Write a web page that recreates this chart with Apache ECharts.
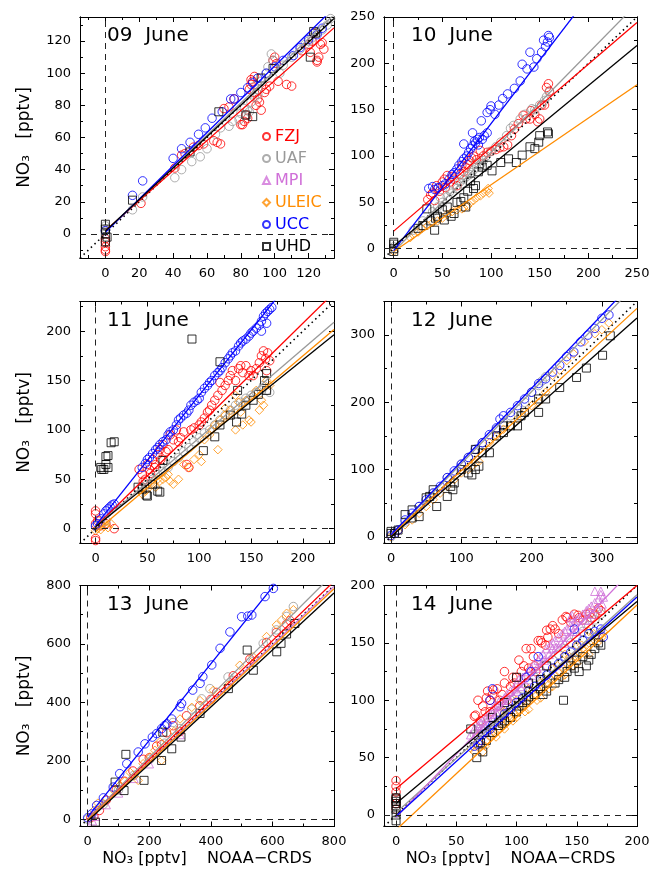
<!DOCTYPE html>
<html><head><meta charset="utf-8">
<script src="https://cdn.jsdelivr.net/npm/echarts@6/dist/echarts.min.js"></script>
<style>html,body{margin:0;padding:0;background:#fff;}#c{width:653px;height:879px;}</style>
</head><body><div id="c"></div>
<script>
// ---------- instruments ----------
const instruments = ['FZJ','UAF','MPI','ULEIC','UCC','UHD'];
const instColors  = ['#ff0000','#999999','#d070d8','#ff8c00','#0000ff','#000000'];
const instSymbols = ['circle','circle','triangle','diamond','circle','rect'];
const panelTitles = ['09  June','10  June','11  June','12  June','13  June','14  June'];
// axis ranges and tick steps (same for x and y in each panel)
const axisMin   = [-15,-10,-15,-10,-25,-10];
const axisMax   = [135,250,230,350,800,200];
const majorStep = [20,50,50,100,200,50];
const minorStep = [10,25,25,50,100,25];

// ---------- 09 June ----------
const d09_FZJ = [[0,-5],[0,-8],[0,-10],[0,-11],[0,-3],[21,19],[41,41],[45,49],[47,50],[52,54],[55,55],[58,56],[64,58],[66,57],[68,56],[70,78],[73,79],[76,84],[80,68],[81,68],[82,70],[83,74],[84,72],[85,90],[86,93],[86,96],[87,95],[88,98],[88,88],[89,80],[90,84],[91,82],[92,77],[94,88],[95,90],[97,92],[99,108],[100,110],[101,106],[102,95],[107,93],[110,92],[116,114],[120,118],[121,113],[122,120],[125,108],[126,110],[127,118],[129,115],[125,107],[123,125],[128,119]];
const d09_UAF = [[0,5],[0,3],[0,2],[16,15],[22,23],[41,35],[45,40],[51,45],[56,48],[60,53],[65,62],[68,66],[73,67],[75,70],[79,71],[80,75],[82,78],[84,77],[86,82],[88,85],[90,90],[92,95],[95,100],[98,112],[99,108],[96,104],[103,100],[105,105],[110,110],[115,115],[118,118],[120,120],[122,122],[125,125],[128,127],[131,130],[88,92],[85,76],[90,87],[133,134]];
const d09_UCC = [[0,2],[16,24],[22,33],[40,47],[45,53],[50,57],[55,62],[59,66],[63,72],[69,76],[74,84],[76,84],[80,88],[84,91],[87,94],[90,97],[95,100],[100,104],[105,108],[111,111],[115,116],[120,121],[125,124],[128,128]];
const d09_UHD = [[0,6],[0,3],[0,0],[1,-2],[0,-5],[16,21],[50,51],[67,76],[83,74],[87,73],[92,97],[99,103],[121,110],[123,126],[124,125]];
const fit09 = [['FZJ',0.935,2],['UAF',1.0,1.5],['UCC',1.035,1],['UHD',0.98,1.8]];

// ---------- 10 June ----------
const d10_FZJ = [[35,53],[38,58],[42,52],[45,65],[47,62],[50,72],[52,75],[55,79],[58,72],[62,75],[65,68],[68,80],[72,83],[74,88],[76,91],[78,95],[80,98],[82,100],[85,96],[89,106],[92,100],[96,104],[100,105],[105,107],[109,109],[113,110],[117,112],[121,122],[124,129],[128,135],[133,144],[136,140],[140,140],[141,149],[145,145],[148,137],[150,140],[152,155],[155,155],[157,174],[159,178],[160,170],[40,60],[44,68],[53,66],[60,78],[70,90]];
const d10_UAF = [[0,2],[20,20],[30,30],[40,40],[45,45],[50,50],[55,56],[60,60],[65,65],[70,70],[72,75],[75,78],[78,80],[80,82],[82,85],[85,88],[88,90],[90,92],[92,95],[95,100],[100,105],[105,110],[110,115],[116,122],[120,130],[123,133],[130,140],[135,145],[142,151],[145,150],[150,155],[155,160],[157,164],[160,169],[48,55],[58,62],[68,72],[84,92]];
const d10_ULEIC = [[0,-3],[17,12],[20,15],[25,18],[28,22],[35,25],[40,28],[45,30],[50,33],[55,37],[60,40],[65,42],[70,43],[72,44],[76,46],[79,50],[82,52],[85,55],[89,57],[92,60],[96,62],[97,65],[98,60]];
const d10_UCC = [[36,65],[40,67],[42,64],[46,66],[50,68],[53,70],[57,75],[62,82],[67,90],[72,97],[72,113],[77,104],[81,111],[81,125],[84,114],[86,118],[88,120],[90,138],[93,122],[96,125],[96,147],[99,150],[100,154],[104,145],[108,155],[112,162],[117,167],[124,173],[130,181],[132,199],[137,194],[140,212],[144,196],[147,205],[152,212],[154,225],[156,218],[158,223],[159,230],[160,228],[60,80],[65,86],[70,94],[75,100],[79,108],[83,116],[87,112],[91,118]];
const d10_UHD = [[0,-3],[0,0],[0,5],[0,7],[25,22],[30,25],[34,43],[38,30],[42,20],[43,33],[45,35],[50,42],[52,31],[55,45],[59,35],[62,38],[65,50],[69,51],[72,55],[74,45],[76,62],[79,73],[82,65],[84,68],[87,83],[91,88],[96,90],[101,84],[110,93],[118,97],[126,93],[132,101],[140,110],[145,108],[149,115],[150,122],[158,126],[159,124]];
const fit10 = [['FZJ',0.9,19],['UAF',1.07,-3],['ULEIC',0.72,-3],['UCC',1.37,-2],['UHD',0.865,3]];

// ---------- 11 June ----------
const d11_FZJ = [[0,-10],[0,-12],[0,15],[0,18],[0,5],[2,8],[5,3],[10,5],[18,0],[42,60],[45,55],[48,50],[50,65],[52,60],[55,70],[58,65],[60,75],[62,80],[65,85],[68,78],[70,80],[72,95],[75,90],[78,100],[80,88],[82,92],[85,98],[88,65],[90,62],[92,100],[95,102],[100,105],[102,108],[105,112],[108,118],[110,120],[112,125],[115,130],[118,135],[120,148],[122,140],[125,145],[128,150],[130,155],[132,160],[135,150],[138,162],[140,165],[142,158],[145,165],[148,155],[150,160],[152,155],[155,162],[158,168],[160,175],[162,180],[164,172],[166,178],[168,170],[165,160],[46,48],[53,56],[57,62],[63,70]];
const d11_UAF = [[0,2],[5,4],[10,8],[45,42],[50,45],[55,50],[60,55],[65,58],[70,62],[75,68],[80,72],[85,78],[90,82],[95,88],[100,92],[105,97],[110,100],[115,105],[120,110],[125,115],[130,120],[135,125],[140,128],[145,132],[150,135],[155,138],[160,140],[165,140],[168,138],[162,145]];
const d11_ULEIC = [[0,-2],[2,0],[5,-1],[8,2],[10,4],[12,1],[15,5],[45,35],[48,38],[50,40],[55,45],[58,42],[60,50],[62,48],[65,50],[68,52],[70,55],[72,48],[75,45],[80,50],[85,65],[90,62],[95,70],[100,75],[102,68],[105,90],[110,95],[112,100],[115,105],[118,80],[120,110],[125,115],[130,120],[135,100],[138,128],[140,118],[142,105],[145,130],[148,110],[150,108],[152,135],[155,140],[158,120],[160,130],[162,125],[165,150],[168,145],[135,135],[125,122]];
const d11_UCC = [[0,3],[2,5],[5,10],[8,15],[10,18],[12,20],[14,22],[16,24],[18,25],[45,62],[48,66],[50,70],[52,72],[55,76],[58,80],[60,82],[62,85],[65,88],[68,90],[70,95],[72,98],[75,100],[78,105],[80,110],[82,112],[85,115],[88,117],[90,120],[92,125],[95,128],[98,130],[100,132],[102,138],[105,142],[108,145],[110,148],[112,150],[115,155],[118,158],[120,160],[122,163],[125,168],[128,172],[130,175],[132,178],[135,180],[138,185],[140,188],[142,190],[145,192],[148,195],[150,198],[152,200],[155,203],[158,206],[160,210],[162,215],[164,218],[166,220],[168,222],[170,224],[165,208],[160,200]];
const d11_UHD = [[5,62],[6,60],[8,60],[10,65],[10,73],[12,74],[12,62],[15,87],[18,88],[41,42],[45,40],[49,34],[50,33],[55,45],[60,38],[62,37],[65,69],[93,192],[104,79],[115,93],[120,105],[120,169],[130,115],[136,108],[137,140],[141,116],[145,125],[152,130],[157,136],[163,150],[165,157],[165,140]];
const fit11 = [['FZJ',1.03,2],['UAF',0.9,2],['ULEIC',0.89,-3],['UCC',1.32,3],['UHD',0.845,2]];

// ---------- 12 June ----------
const d12_UAF = [[0,0],[10,10],[20,22],[40,45],[60,65],[80,88],[100,108],[110,118],[120,125],[130,140],[150,160],[160,170],[170,180],[180,190],[190,200],[200,215],[210,225],[215,232],[220,238]];
const d12_ULEIC = [[0,0],[10,8],[20,18],[30,25],[40,35],[50,45],[60,55],[70,65],[80,75],[90,85],[100,95],[110,100],[115,105],[120,110],[125,112],[140,140],[150,150],[160,160],[170,165],[180,175],[190,185],[200,195],[210,200],[220,215],[230,240],[240,248],[250,262],[260,272],[275,290],[290,302],[300,308],[310,318]];
const d12_UCC = [[0,2],[5,5],[10,10],[20,25],[30,35],[40,45],[50,55],[60,65],[70,75],[80,88],[90,98],[100,108],[110,118],[120,130],[130,140],[140,152],[150,162],[155,175],[160,180],[170,185],[180,195],[190,205],[200,215],[210,228],[220,235],[230,245],[240,255],[250,268],[260,275],[270,290],[280,300],[290,310],[300,325],[310,330]];
const d12_UHD = [[0,5],[0,8],[5,5],[10,10],[20,33],[30,40],[30,28],[40,30],[50,58],[55,60],[60,70],[65,45],[80,60],[85,75],[90,80],[88,70],[100,100],[110,95],[115,92],[120,100],[120,130],[125,105],[130,125],[140,125],[150,150],[160,155],[160,165],[170,165],[180,165],[185,180],[190,185],[210,185],[210,205],[220,205],[240,222],[264,237],[278,251],[301,270],[312,299]];
const fit12 = [['UAF',1.07,2],['ULEIC',0.965,2],['UCC',1.09,3],['UHD',0.93,0]];

// ---------- 13 June ----------
const d13_FZJ = [[10,5],[20,10],[38,30],[60,65],[93,101],[120,130],[147,165],[180,205],[200,210],[224,250],[240,255],[256,296],[278,320],[300,300],[321,354],[364,388],[400,410],[419,434],[473,491],[527,548],[581,605],[613,639],[646,668],[657,680]];
const d13_UAF = [[0,0],[50,50],[100,100],[150,150],[202,205],[250,260],[277,331],[300,310],[338,377],[370,412],[397,447],[456,487],[473,475],[537,539],[570,602],[613,648],[646,694],[668,728]];
const d13_MPI = [[15,-5],[25,10],[60,50],[100,90],[150,140],[200,190],[300,290]];
const d13_ULEIC = [[20,30],[33,55],[50,55],[83,101],[104,115],[120,130],[137,161],[164,133],[180,190],[202,213],[218,236],[234,264],[240,201],[250,250],[280,300],[300,343],[338,383],[365,406],[408,441],[456,458],[494,527],[537,556],[581,625],[613,665],[630,682],[646,705],[668,717]];
const d13_UCC = [[0,5],[13,18],[29,47],[51,73],[83,110],[104,156],[127,190],[164,230],[186,258],[210,281],[224,293],[240,310],[250,320],[257,326],[273,343],[300,385],[305,396],[341,442],[365,465],[374,488],[403,528],[430,585],[462,641],[500,693],[520,695],[533,699],[576,762],[603,790]];
const d13_UHD = [[25,-10],[89,127],[118,98],[124,222],[183,133],[240,201],[244,298],[273,241],[303,281],[365,362],[457,447],[518,579],[538,510],[614,573],[628,602],[646,634],[673,670]];
const fit13 = [['FZJ',1.015,2],['UAF',1.05,2],['MPI',1.0,-3],['ULEIC',0.99,-3],['UCC',1.31,8],['UHD',0.975,-6]];

// ---------- 14 June ----------
const d14_FZJ = [[0,30],[0,25],[0,20],[0,15],[0,10],[0,5],[65,86],[66,87],[68,100],[70,82],[72,95],[74,90],[75,102],[78,100],[80,105],[81,109],[84,110],[85,95],[88,105],[90,125],[92,100],[95,112],[98,115],[100,120],[102,135],[104,125],[106,130],[108,145],[110,128],[112,145],[114,138],[115,130],[116,125],[118,152],[120,152],[121,150],[124,148],[125,161],[126,155],[128,162],[130,165],[132,162],[135,158],[138,170],[141,173],[142,172],[145,168],[148,175],[151,174],[152,172],[155,170],[158,175],[161,176],[162,172],[165,175],[168,180],[170,178],[97,120],[90,115],[86,100],[78,90],[76,108]];
const d14_UAF = [[0,2],[0,5],[65,70],[70,75],[75,80],[80,85],[85,90],[90,95],[95,100],[100,105],[105,110],[110,115],[115,120],[120,125],[125,130],[130,135],[135,140],[140,145],[145,150],[150,155],[155,160],[160,165],[165,170],[170,175]];
const d14_MPI = [[62,70],[65,75],[68,78],[70,80],[72,82],[75,85],[78,88],[80,92],[82,95],[85,98],[88,100],[90,102],[92,105],[95,108],[98,110],[100,115],[102,118],[105,120],[108,122],[110,125],[112,128],[115,132],[118,135],[120,138],[122,140],[125,145],[128,148],[130,150],[132,152],[135,155],[138,158],[140,160],[142,162],[145,165],[148,168],[150,170],[152,172],[155,175],[158,178],[160,180],[162,182],[165,185],[168,188],[170,192],[172,190],[160,170],[150,160],[140,150],[130,145],[120,130],[110,118],[100,108],[90,98],[80,88],[70,75],[146,174],[145,172],[165,195],[170,195],[64,66],[67,72],[73,78],[77,84],[83,90],[87,95],[93,100],[97,104],[103,112],[107,115],[113,122],[117,128],[123,135],[127,140],[133,146],[137,150],[143,155],[147,160],[153,165],[157,170],[163,175],[167,180],[171,184]];
const d14_ULEIC = [[62,58],[65,55],[68,60],[70,62],[72,55],[75,65],[78,68],[80,70],[82,72],[85,75],[88,78],[90,80],[92,82],[95,85],[98,88],[100,90],[102,92],[105,95],[108,98],[110,100],[112,102],[115,105],[118,108],[120,110],[122,112],[125,115],[128,118],[130,120],[132,122],[135,125],[138,128],[140,130],[142,132],[145,135],[148,138],[150,140],[152,142],[155,145],[158,148],[160,150],[162,152],[165,155],[168,155],[170,158],[172,160],[100,100],[110,110],[120,115],[130,128],[140,140],[150,148],[160,160],[90,90],[80,75],[70,70],[160,140],[150,132],[140,122],[130,112],[120,102],[110,92],[100,85],[90,75],[66,62],[74,60],[83,68],[87,82],[93,88],[97,82],[104,98],[107,90],[113,108],[117,100],[124,118],[127,110],[134,130],[137,120],[144,138],[147,130],[154,148],[157,140],[164,158],[167,150],[171,155]];
const d14_UCC = [[65,60],[68,62],[70,65],[72,70],[75,72],[78,75],[80,78],[85,82],[90,88],[95,92],[100,98],[105,102],[110,108],[115,112],[118,138],[120,118],[125,122],[130,128],[135,132],[140,138],[145,142],[150,148],[155,152],[160,158],[165,160],[170,162],[172,155],[108,120],[112,125],[148,162],[78,100],[80,110]];
const d14_UHD = [[0,-5],[0,0],[0,5],[0,8],[0,10],[0,12],[0,14],[0,15],[62,75],[67,50],[70,63],[72,55],[75,65],[80,72],[85,78],[88,80],[90,82],[95,85],[100,90],[102,95],[105,98],[108,100],[110,103],[115,105],[120,110],[122,105],[125,108],[132,115],[135,118],[139,100],[140,120],[142,125],[145,130],[148,128],[150,135],[152,125],[155,138],[158,130],[160,135],[162,140],[165,145],[168,150],[170,148],[100,120],[90,98],[80,85],[110,115],[120,118],[125,130]];
const fit14 = [['FZJ',0.885,23],['UAF',0.95,2],['MPI',1.1,-2],['ULEIC',0.98,-13],['UCC',0.955,-1],['UHD',0.88,10]];

// ---------- assemble ----------
const panelData = [
  {FZJ:d09_FZJ, UAF:d09_UAF, UCC:d09_UCC, UHD:d09_UHD},
  {FZJ:d10_FZJ, UAF:d10_UAF, ULEIC:d10_ULEIC, UCC:d10_UCC, UHD:d10_UHD},
  {FZJ:d11_FZJ, UAF:d11_UAF, ULEIC:d11_ULEIC, UCC:d11_UCC, UHD:d11_UHD},
  {UAF:d12_UAF, ULEIC:d12_ULEIC, UCC:d12_UCC, UHD:d12_UHD},
  {FZJ:d13_FZJ, UAF:d13_UAF, MPI:d13_MPI, ULEIC:d13_ULEIC, UCC:d13_UCC, UHD:d13_UHD},
  {FZJ:d14_FZJ, UAF:d14_UAF, MPI:d14_MPI, ULEIC:d14_ULEIC, UCC:d14_UCC, UHD:d14_UHD}
];
const panelFits = [fit09, fit10, fit11, fit12, fit13, fit14];

const FONT = 'DejaVu Sans';
const gridRects = [[80,17,254,241],[384,17,253,241],[80,301.5,254,242],[384,301.5,253,242],[80,585.5,254,241],[384,585.5,253,241]];

function tickVals(min, max, step){ const a=[]; for(let v=Math.ceil(min/step)*step; v<=max+1e-9; v+=step) a.push(v); return a; }

const grids=[], xAxes=[], yAxes=[], series=[], titles=[];
const symSize = {circle:8.5, triangle:8.5, diamond:8.5, rect:8};

gridRects.forEach((r,p)=>{
  grids.push({left:r[0], top:r[1], width:r[2], height:r[3], containLabel:false});
  const mn=axisMin[p], mx=axisMax[p];
  const majors = tickVals(mn,mx,majorStep[p]);
  const minors = tickVals(mn,mx,minorStep[p]).filter(v=>Math.abs(v % majorStep[p])>1e-9);
  const base = (pos, vals, len, labels) => ({type:'value', gridIndex:p, position:pos, min:mn, max:mx,
      axisLine:{show:true, onZero:false, lineStyle:{color:'#000', width:1}},
      axisTick:{show:true, inside:true, length:len, customValues:vals, lineStyle:{color:'#000', width:1}},
      axisLabel: labels ? {show:true, customValues:majors, color:'#000', fontFamily:FONT, fontSize:13, margin:9} : {show:false},
      splitLine:{show:false}, minorTick:{show:false}, silent:true});
  const xb = base('bottom', majors, 5, true);
  if (p>=4){ Object.assign(xb,{name:'NO\u2083 [pptv]    NOAA\u2212CRDS', nameLocation:'middle', nameGap:24, nameTextStyle:{fontFamily:FONT, fontSize:16, color:'#000'}}); }
  xAxes.push(xb, base('bottom', minors, 3, false), base('top', majors, 5, false), base('top', minors, 3, false));
  const yl = base('left', majors, 5, true);
  if (p%2===0){ Object.assign(yl,{name:'NO\u2083   [pptv]', nameLocation:'middle', nameGap:47, nameRotate:90, nameTextStyle:{fontFamily:FONT, fontSize:17, color:'#000'}}); }
  yAxes.push(yl, base('left', minors, 3, false), base('right', majors, 5, false), base('right', minors, 3, false));

  titles.push({text:panelTitles[p], left:r[0]+27, top:r[1]+9, padding:0,
    textStyle:{fontFamily:FONT, fontSize:20, fontWeight:'normal', color:'#000'}});

  const ax = p*4;
  instruments.forEach((name,i)=>{
    const d = panelData[p][name];
    if(!d) return;
    series.push({type:'scatter', name, xAxisIndex:ax, yAxisIndex:ax, data:d,
      symbol:instSymbols[i], symbolSize:symSize[instSymbols[i]],
      itemStyle:{color:'rgba(255,255,255,0)', borderColor:instColors[i], borderWidth:1},
      silent:true, animation:false, z:2});
  });
  // 1:1 dotted line + zero dashed lines
  series.push({type:'line', name:'one2one', xAxisIndex:ax, yAxisIndex:ax, data:[[mn,mn],[mx,mx]],
    showSymbol:false, symbol:'none', clip:true, silent:true, animation:false, z:3,
    lineStyle:{color:'#000', width:1.6, type:[1.5,3.5]},
    markLine:{silent:true, symbol:['none','none'], label:{show:false}, animation:false,
      lineStyle:{color:'#222', width:1, type:[6,5]}, data:[{xAxis:0},{yAxis:0}]}});
  // fit lines from x = 0 to the right edge
  panelFits[p].forEach(f=>{
    const i = instruments.indexOf(f[0]);
    series.push({type:'line', name:f[0]+' fit', xAxisIndex:ax, yAxisIndex:ax,
      data:[[0, f[2]],[mx, f[1]*mx+f[2]]], showSymbol:false, symbol:'none', clip:true,
      silent:true, animation:false, z:4, lineStyle:{color:instColors[i], width:1.3}});
  });
});

const chart = echarts.init(document.getElementById('c'), null, {renderer:'canvas'});
chart.setOption({
  animation:false, backgroundColor:'#fff',
  title:titles, grid:grids, xAxis:xAxes, yAxis:yAxes, series,
  legend:{data:instruments.map((n,i)=>({name:n, textStyle:{color:instColors[i]}})),
    orient:'vertical', left:262, top:128, itemWidth:7, itemHeight:7, itemGap:5, padding:0,
    selectedMode:false, textStyle:{fontFamily:FONT, fontSize:16, lineHeight:17}}
});
</script></body></html>
